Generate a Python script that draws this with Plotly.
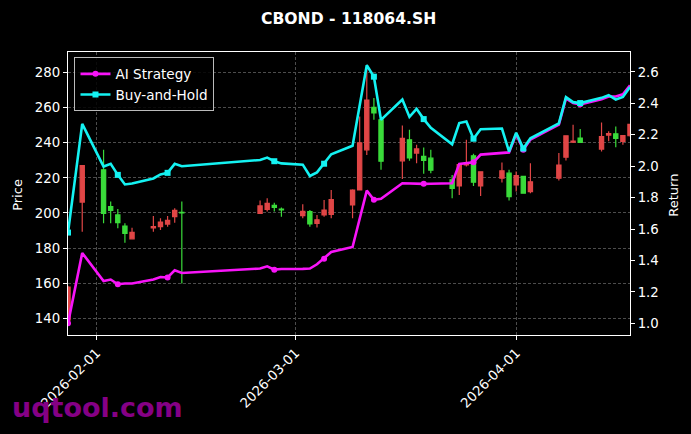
import plotly.graph_objects as go

# ---------------- data ----------------
dates = ["2026-01-28", "2026-01-30", "2026-02-02", "2026-02-03", "2026-02-04", "2026-02-05",
         "2026-02-06", "2026-02-09", "2026-02-10", "2026-02-11", "2026-02-12", "2026-02-13",
         "2026-02-24", "2026-02-25", "2026-02-26", "2026-02-27", "2026-03-02", "2026-03-03",
         "2026-03-04", "2026-03-05", "2026-03-06", "2026-03-09", "2026-03-10", "2026-03-11",
         "2026-03-12", "2026-03-13", "2026-03-16", "2026-03-17", "2026-03-18", "2026-03-19",
         "2026-03-20", "2026-03-23", "2026-03-24", "2026-03-25", "2026-03-26", "2026-03-27",
         "2026-03-30", "2026-03-31", "2026-04-01", "2026-04-02", "2026-04-03", "2026-04-07",
         "2026-04-08", "2026-04-09", "2026-04-10", "2026-04-13", "2026-04-14", "2026-04-15",
         "2026-04-16", "2026-04-17"]

open_ = [139.0, 206.2, 224.6, 203.6, 198.9, 192.6, 185.3, 191.5, 192.2, 193.7, 197.9, 200.3,
         199.8, 202.1, 204.4, 202.2, 198.5, 200.8, 194.1, 198.9, 199.2, 204.6, 213.1, 236.0,
         260.2, 253.1, 229.7, 241.7, 234.1, 232.2, 231.2, 218.9, 215.4, 227.4, 232.6, 215.4,
         219.8, 222.7, 216.0, 220.8, 212.2, 219.8, 231.8, 240.3, 242.7, 236.4, 244.4, 245.1,
         240.8, 244.0]
high = [158.5, 227.2, 236.0, 206.5, 202.3, 194.1, 191.6, 198.3, 197.0, 198.3, 202.7, 206.5,
        207.1, 208.4, 205.9, 203.1, 205.0, 201.7, 198.9, 207.4, 213.1, 213.5, 255.0, 284.5,
        265.5, 254.0, 249.9, 247.4, 238.9, 237.3, 236.0, 221.7, 228.4, 241.7, 233.7, 223.6,
        228.8, 224.6, 223.6, 220.8, 228.4, 234.1, 244.0, 250.3, 247.8, 251.6, 246.5, 249.3,
        244.0, 250.8]
low = [137.7, 189.3, 194.1, 194.1, 191.3, 183.0, 185.0, 189.3, 190.3, 192.2, 194.5, 159.8,
       199.5, 200.8, 200.8, 197.9, 197.0, 192.2, 191.8, 197.9, 197.0, 197.0, 213.0, 233.0,
       253.1, 224.6, 219.4, 229.7, 228.4, 222.3, 222.7, 208.4, 210.3, 226.5, 215.4, 209.7,
       217.3, 207.1, 212.2, 210.9, 211.3, 218.5, 229.9, 239.8, 240.2, 235.0, 240.8, 237.5,
       238.9, 243.5]
close = [157.8, 227.0, 199.8, 201.5, 194.5, 188.4, 189.0, 192.2, 194.8, 195.8, 201.5, 200.0,
         204.0, 205.5, 203.2, 201.8, 201.0, 193.8, 196.1, 201.6, 207.6, 213.0, 240.0, 264.3,
         257.0, 229.5, 242.5, 231.4, 236.5, 230.0, 224.4, 214.0, 227.5, 228.5, 217.5, 223.5,
         224.0, 209.3, 221.3, 211.3, 217.8, 227.3, 244.0, 241.0, 240.2, 243.5, 245.2, 242.5,
         244.1, 250.5]

ai_strategy = [1.000, 1.448, 1.270, 1.279, 1.249, 1.254, 1.254, 1.279, 1.295, 1.292, 1.338, 1.321,
               1.349, 1.363, 1.342, 1.346, 1.347, 1.349, 1.376, 1.412, 1.454, 1.486, 1.670, 1.845,
               1.786, 1.793, 1.892, 1.890, 1.889, 1.888, 1.889, 1.892, 2.015, 2.022, 2.025, 2.074,
               2.083, 2.088, 2.205, 2.105, 2.170, 2.265, 2.432, 2.402, 2.394, 2.427, 2.444, 2.444,
               2.458, 2.515]
buy_hold = [1.578, 2.270, 1.998, 2.015, 1.945, 1.884, 1.890, 1.922, 1.948, 1.958, 2.015, 2.000,
            2.040, 2.055, 2.032, 2.018, 2.010, 1.938, 1.961, 2.016, 2.076, 2.130, 2.400, 2.643,
            2.570, 2.295, 2.425, 2.314, 2.365, 2.300, 2.244, 2.140, 2.275, 2.285, 2.175, 2.235,
            2.240, 2.093, 2.213, 2.113, 2.178, 2.273, 2.440, 2.408, 2.402, 2.435, 2.452, 2.425,
            2.441, 2.505]

marker_idx = [0, 4, 9, 14, 19, 24, 29, 34, 39, 44]

price_ticks = [140, 160, 180, 200, 220, 240, 260, 280]
return_ticks = [1.0, 1.2, 1.4, 1.6, 1.8, 2.0, 2.2, 2.4, 2.6]
date_ticks = ["2026-02-01", "2026-03-01", "2026-04-01"]

title_text = "CBOND - 118064.SH"
watermark = "uqtool.com"

# ---------------- style ----------------
RED = "#E04646"
GREEN = "#3ADB3A"
MAGENTA = "#F814F8"
CYAN = "#14F2F2"
FONT = "DejaVu Sans"
TXT = "#FFFFFF"
FS = 13.3

fig = go.Figure()

fig.add_trace(go.Candlestick(
    x=dates, open=open_, high=high, low=low, close=close,
    increasing=dict(line=dict(color=RED, width=1.2), fillcolor=RED),
    decreasing=dict(line=dict(color=GREEN, width=1.2), fillcolor=GREEN),
    whiskerwidth=0, showlegend=False, hoverinfo="skip",
    xaxis="x", yaxis="y",
))

# lines on return axis
fig.add_trace(go.Scatter(x=dates, y=ai_strategy, mode="lines", yaxis="y2",
                         line=dict(color=MAGENTA, width=2.6), showlegend=False))
fig.add_trace(go.Scatter(x=[dates[i] for i in marker_idx], y=[ai_strategy[i] for i in marker_idx],
                         mode="markers", yaxis="y2", showlegend=False,
                         marker=dict(color=MAGENTA, size=6, symbol="circle")))
fig.add_trace(go.Scatter(x=dates, y=buy_hold, mode="lines", yaxis="y2",
                         line=dict(color=CYAN, width=2.6), showlegend=False))
fig.add_trace(go.Scatter(x=[dates[i] for i in marker_idx], y=[buy_hold[i] for i in marker_idx],
                         mode="markers", yaxis="y2", showlegend=False,
                         marker=dict(color=CYAN, size=6, symbol="square")))

# legend entries
fig.add_trace(go.Scatter(x=[None], y=[None], mode="lines+markers", name="AI Strategy", yaxis="y2",
                         line=dict(color=MAGENTA, width=2.6),
                         marker=dict(color=MAGENTA, size=6, symbol="circle")))
fig.add_trace(go.Scatter(x=[None], y=[None], mode="lines+markers", name="Buy-and-Hold", yaxis="y2",
                         line=dict(color=CYAN, width=2.6),
                         marker=dict(color=CYAN, size=6, symbol="square")))

L, R, T, B = 67.5, 60.5, 51.5, 99
W, H = 691, 434
pw, ph = W - L - R, H - T - B

GRID = dict(showgrid=True, gridcolor="#4c4c4c", gridwidth=0.7, griddash="3px,2px")

axis_common = dict(
    showline=True, linecolor="#FFFFFF", linewidth=1.2, mirror=True,
    ticks="outside", ticklen=4, tickcolor="#FFFFFF", tickwidth=1,
    tickfont=dict(family=FONT, size=FS, color=TXT), automargin=False, zeroline=False,
)

fig.update_layout(
    width=W, height=H,
    margin=dict(l=L, r=R, t=T, b=B, autoexpand=False),
    paper_bgcolor="#000000", plot_bgcolor="#000000",
    font=dict(family=FONT, color=TXT, size=FS),
    boxgap=0.15,
    xaxis=dict(
        type="date", range=["2026-01-28", "2026-04-17"],
        tickvals=date_ticks, ticktext=date_ticks, tickangle=-45,
        rangeslider=dict(visible=False),
        **GRID, **axis_common,
    ),
    yaxis=dict(
        range=[130.5, 291.7], tickvals=price_ticks,
        **GRID, **axis_common,
    ),
    yaxis2=dict(
        overlaying="y", side="right", range=[0.926, 2.727],
        tickvals=return_ticks, tickformat=".1f", showgrid=False,
        showline=False, ticks="outside", ticklen=4, tickcolor="#FFFFFF",
        tickfont=dict(family=FONT, size=FS, color=TXT), automargin=False, zeroline=False,
    ),
    legend=dict(
        x=(74 - L) / pw, y=(H - B - 57) / ph, xanchor="left", yanchor="top",
        bgcolor="rgba(0,0,0,0.85)", bordercolor="#BBBBBB", borderwidth=1,
        font=dict(family=FONT, size=13.6, color=TXT),
    ),
    showlegend=True,
    hovermode=False,
)

def px_x(px):
    return (px - L) / pw

def px_y(py):
    return (H - B - py) / ph

fig.add_annotation(text="<b>" + title_text + "</b>", xref="paper", yref="paper",
                   x=px_x(348), y=px_y(18), showarrow=False,
                   font=dict(family=FONT, size=15.6, color=TXT), xanchor="center", yanchor="middle")
fig.add_annotation(text="Price", xref="paper", yref="paper", x=px_x(17), y=px_y(195),
                   showarrow=False, textangle=-90, font=dict(family=FONT, size=13, color=TXT),
                   xanchor="center", yanchor="middle")
fig.add_annotation(text="Return", xref="paper", yref="paper", x=px_x(674), y=px_y(195),
                   showarrow=False, textangle=-90, font=dict(family=FONT, size=13, color=TXT),
                   xanchor="center", yanchor="middle")
fig.add_annotation(text="<b>" + watermark + "</b>", xref="paper", yref="paper", x=px_x(9), y=px_y(408),
                   showarrow=False, font=dict(family=FONT, size=27, color="#850085"),
                   xanchor="left", yanchor="middle")

fig.write_html(
    "out.html",
    config={"displayModeBar": False},
    post_script="document.body.style.margin='0';document.body.style.padding='0';"
                "document.body.style.background='#000';",
)
